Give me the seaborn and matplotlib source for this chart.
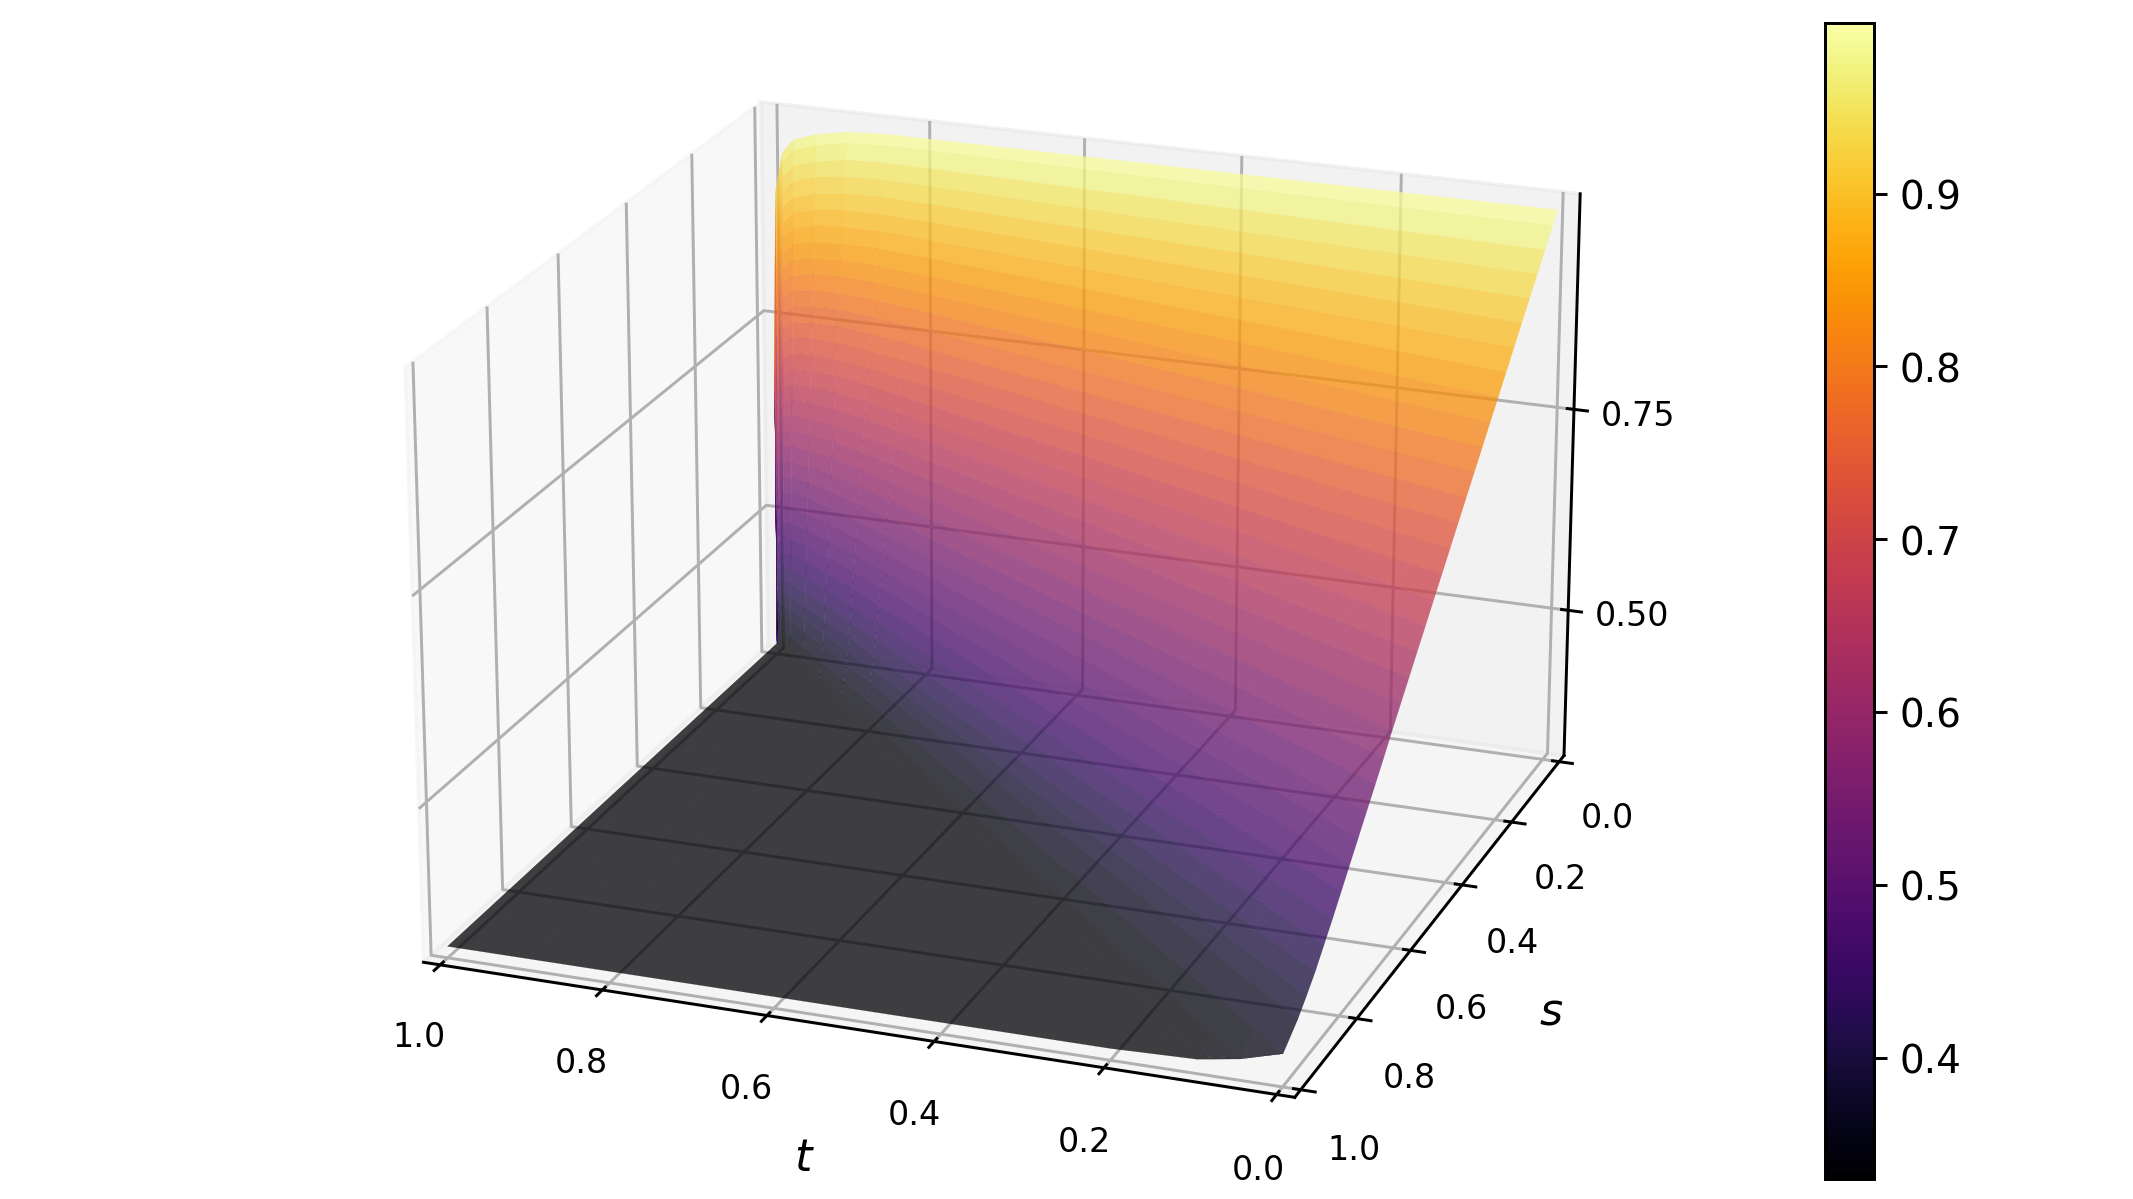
import numpy as np
import matplotlib
matplotlib.use('Agg')
import matplotlib.pyplot as plt
from matplotlib.cm import ScalarMappable
from matplotlib.colors import Normalize
import seaborn as sns

# values. the surface fans out from the corner t=1, s=0,
# so the columns are fractions of the span 1-t, the last column is the edge s=1
t_vals = [0, .05, .1, .2, .8, .85, .9, .94, .97, .985, .995, .999, 1]
span_vals = [0, .02, .05, .08, .11, .14, .17, .2, .23, .26, .29, .32, .35, .38, .41, .44, .47, .5, .53,
             .56, .59, .62, .65, .68, .71, .74, .77, .8, .83, .86, .89, .92, .95, 1, 1.05, 1.1, 1.15, 1.2]

wall_head = [.997, .984, .964, .944, .924, .904, .884, .864, .844, .824, .804, .784, .764, .744, .724, .704, .684, .664, .644,
             .624, .604, .584, .563, .543, .523, .503, .483, .463, .443, .424, .405, .389, .374, .355]
u_t000 = wall_head + [.355, .355, .355, .355]
u_t005 = wall_head + [.341, .341, .341, .341]
u_t010 = wall_head + [.341, .333, .333, .333]
u_mid = wall_head + [.341, .333, .330, .330]
u_t090 = [.994, .981, .961, .941, .921, .901, .881, .861, .841, .822, .802, .782, .762, .742, .722, .702, .682, .662, .642,
          .623, .603, .583, .562, .542, .522, .502, .482, .462, .442, .424, .405, .389, .374, .355, .341, .333, .330, .330]
u_t094 = [.987, .974, .954, .935, .915, .895, .876, .856, .836, .817, .797, .777, .757, .738, .718, .698, .679, .659, .639,
          .620, .600, .580, .560, .540, .520, .500, .481, .461, .441, .423, .404, .388, .373, .355, .341, .333, .330, .330]
u_t097 = [.977, .964, .945, .926, .906, .887, .867, .848, .829, .809, .790, .770, .751, .732, .712, .693, .673, .654, .635,
          .615, .596, .576, .556, .537, .517, .498, .478, .459, .440, .421, .403, .387, .373, .354, .341, .333, .330, .330]
u_t0985 = [.960, .948, .929, .910, .891, .872, .854, .835, .816, .797, .778, .759, .740, .721, .702, .683, .665, .646, .627,
           .608, .589, .570, .550, .531, .512, .493, .475, .456, .437, .419, .401, .386, .372, .354, .340, .333, .330, .330]
u_t0995 = [.910, .899, .882, .864, .847, .829, .812, .795, .777, .760, .742, .725, .708, .690, .673, .655, .638, .621, .603,
           .586, .568, .551, .533, .515, .498, .481, .463, .446, .428, .412, .395, .381, .368, .352, .340, .333, .330, .330]
u_t0999 = [.697, .690, .679, .668, .657, .646, .635, .624, .613, .602, .591, .580, .569, .558, .547, .536, .525, .514, .503,
           .492, .481, .470, .458, .447, .436, .425, .414, .403, .392, .382, .371, .362, .354, .344, .336, .332, .330, .330]
u_t100 = [.330] * 38

u_rows = [u_t000, u_t005, u_t010, u_mid, u_mid, u_mid, u_t090, u_t094, u_t097, u_t0985, u_t0995, u_t0999, u_t100]

u_min = 0.33
u_max = 0.9986
grid_ticks = [0, .2, .4, .6, .8, 1]
u_ticks = [.5, .75]
bar_ticks = [.4, .5, .6, .7, .8, .9]

plt.rcParams['axes3d.automargin'] = True

cmap = sns.color_palette('inferno', as_cmap=True)
norm = Normalize(u_min, u_max)

T, R = np.meshgrid(t_vals, span_vals, indexing='ij')
S = np.minimum(1, R * (1 - T))
S[:, -1] = 1
U = np.array(u_rows)

fig = plt.figure(figsize=(8, 4.5), dpi=266.625)
ax = fig.add_axes([0.036, -0.0645, 0.86, 1.145], projection='3d')
ax.view_init(elev=21, azim=110.3)
ax.set_box_aspect((4, 4, 2.75))
surf = ax.plot_surface(T, S, U, cmap=cmap, norm=norm, rstride=1, cstride=1, linewidth=0.04, alpha=0.75)
surf.set_edgecolor('face')

ax.set_xlim(0, 1)
ax.set_ylim(0, 1)
ax.set_zlim(u_min, u_max)
ax.set_xticks(grid_ticks)
ax.set_yticks(grid_ticks)
ax.set_zticks(u_ticks)
ax.tick_params(labelsize=9)
ax.set_xlabel('$t$', fontsize=12, labelpad=5)
ax.set_ylabel('$s$', fontsize=12, labelpad=5)

cax = fig.add_axes([0.8556, 0.017, 0.023, 0.963])
cb = fig.colorbar(ScalarMappable(norm=norm, cmap=cmap), cax=cax)
cb.set_ticks(bar_ticks)
cb.ax.tick_params(labelsize=10.5)

fig.savefig('out.png')
